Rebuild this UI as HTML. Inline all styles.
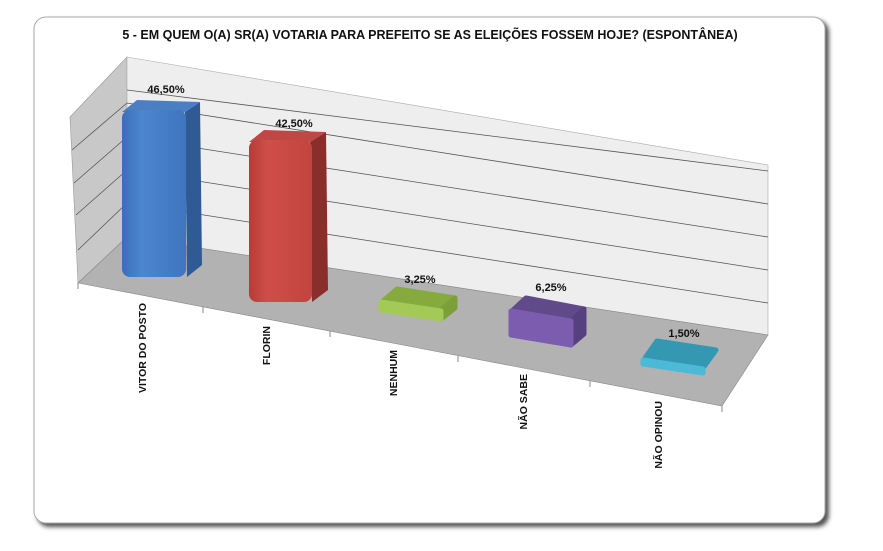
<!DOCTYPE html>
<html><head><meta charset="utf-8"><style>
body{margin:0;background:#fff;width:883px;height:551px;overflow:hidden}
svg{display:block;font-family:"Liberation Sans",sans-serif}
</style></head><body>
<svg width="883" height="551" viewBox="0 0 883 551">
<defs>
<linearGradient id="fb" x1="0" x2="1"><stop offset="0" stop-color="#3a6fb8"/><stop offset="0.3" stop-color="#4d86d0"/><stop offset="1" stop-color="#3f75bf"/></linearGradient>
<linearGradient id="fr" x1="0" x2="1"><stop offset="0" stop-color="#b63c38"/><stop offset="0.3" stop-color="#cf4e4a"/><stop offset="1" stop-color="#c2443f"/></linearGradient>
<filter id="sh"><feGaussianBlur stdDeviation="2"/></filter>
</defs>
<rect x="37" y="20" width="792" height="507" rx="12" fill="#555" filter="url(#sh)"/>
<rect x="34" y="17" width="791" height="506" rx="12" fill="#fff" stroke="#aaa"/>
<text x="430" y="39" text-anchor="middle" font-size="12.5" font-weight="bold" fill="#111">5 - EM QUEM O(A) SR(A) VOTARIA PARA PREFEITO SE AS ELEIÇÕES FOSSEM HOJE? (ESPONTÂNEA)</text>
<polygon points="70,117 127,57 127,237 78,283" fill="#c8c8c8" stroke="#999" stroke-width="0.6"/>
<polygon points="127,57 768,165 768,335 127,237" fill="#eeeeee" stroke="#aaa" stroke-width="0.6"/>
<g stroke="#555" stroke-width="0.8">
<line x1="127" y1="203" x2="768" y2="303"/><line x1="127" y1="170" x2="768" y2="270"/>
<line x1="127" y1="137" x2="768" y2="237"/><line x1="127" y1="103" x2="768" y2="204"/>
<line x1="127" y1="90" x2="768" y2="171"/>
<line x1="78" y1="250" x2="127" y2="203"/><line x1="76" y1="215" x2="127" y2="170"/><line x1="74" y1="183" x2="127" y2="137"/><line x1="72" y1="150" x2="127" y2="103"/>
</g>
<polygon points="78,283 127,237 768,335 722,406" fill="#b2b2b2" stroke="#888" stroke-width="0.6"/>
<g stroke="#888"><line x1="78" y1="283" x2="78" y2="289"/><line x1="203" y1="307" x2="203" y2="313"/><line x1="330" y1="331" x2="330" y2="337"/><line x1="458" y1="356" x2="458" y2="362"/><line x1="590" y1="381" x2="590" y2="387"/><line x1="722" y1="406" x2="722" y2="412"/></g>
<g>
<polygon points="185,112 200,102 202,265 187,277" fill="#2f5a94"/>
<polygon points="122,112 137,100 200,102 185,112" fill="#4a7fc4"/>
<rect x="122" y="110" width="64" height="167" rx="8" fill="url(#fb)"/>
<polygon points="310,142 326,132 328,290 312,302" fill="#8a2e2c"/>
<polygon points="249,142 264,130 326,132 310,142" fill="#c04844"/>
<rect x="249" y="140" width="63" height="162" rx="8" fill="url(#fr)"/>
</g>
<g stroke-linejoin="round" stroke-width="5">
<polygon points="383,301 397,289 455,298 441,310" fill="#86aa3e" stroke="#86aa3e"/>
<polygon points="441,310 455,298 455,308 441,319" fill="#7d9f3a" stroke="#7d9f3a"/>
<polygon points="381,302 441,311 441,319 381,310" fill="#a3c957" stroke="#a3c957"/>
<polygon points="513,310 526,298 584,309 571,321" fill="#604a8a" stroke="#604a8a"/>
<polygon points="571,321 584,309 584,334 571,345" fill="#57407e" stroke="#57407e"/>
<polygon points="511,311 571,321 571,345 511,335" fill="#7c5cae" stroke="#7c5cae"/>
<polygon points="645,358 657,341 716,350 703,368" fill="#3498b3" stroke="#3498b3"/>
<polygon points="643,360 703,369 703,373 643,364" fill="#4cbad6" stroke="#4cbad6"/>
</g>
<g font-size="11" font-weight="bold" fill="#111" text-anchor="middle">
<text x="166" y="93">46,50%</text><text x="294" y="127">42,50%</text>
<text x="420" y="283">3,25%</text><text x="551" y="291">6,25%</text><text x="684" y="337">1,50%</text>
</g>
<g font-size="10.5" font-weight="bold" fill="#111" text-anchor="end">
<text transform="translate(146,303) rotate(-90)">VITOR DO POSTO</text>
<text transform="translate(270,326) rotate(-90)">FLORIN</text>
<text transform="translate(397,350) rotate(-90)">NENHUM</text>
<text transform="translate(527,374) rotate(-90)">NÃO SABE</text>
<text transform="translate(662,401) rotate(-90)">NÃO OPINOU</text>
</g>
</svg>
</body></html>
